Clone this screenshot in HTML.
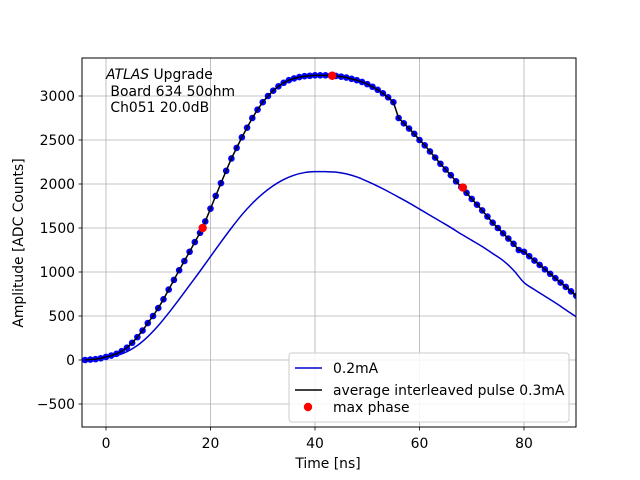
<!DOCTYPE html>
<html><head><meta charset="utf-8"><style>
body{margin:0;background:#fff}
svg{font-family:"DejaVu Sans","Liberation Sans",sans-serif}
</style></head><body>
<svg id="c" width="640" height="480" style="position:absolute;left:0;top:0"></svg>
<script>
const pulseT=[-4,-3,-2,-1,0,1,2,3,4,5,6,7,8,9,10,11,12,13,14,15,16,17,18,19,20,21,22,23,24,25,26,27,28,29,30,31,32,33,34,35,36,37,38,39,40,41,42,43,44,45,46,47,48,49,50,51,52,53,54,55,56,57,58,59,60,61,62,63,64,65,66,67,68,69,70,71,72,73,74,75,76,77,78,79,80,81,82,83,84,85,86,87,88,89,90];
const pulseV=[0,5,10,20,35,50,70,100,140,195,260,335,420,500,590,690,800,910,1020,1125,1230,1340,1445,1575,1720,1865,2010,2150,2290,2410,2530,2640,2750,2845,2930,3000,3060,3110,3150,3180,3200,3215,3225,3230,3235,3235,3235,3232,3228,3220,3210,3195,3180,3160,3135,3105,3070,3030,2985,2930,2750,2690,2630,2570,2500,2440,2370,2300,2230,2165,2100,2030,1965,1900,1830,1765,1700,1630,1560,1500,1440,1380,1320,1250,1230,1180,1130,1080,1030,980,930,880,830,780,730];
const blueT=[-4,-2,0,2,4,6,8,10,12,14,16,18,20,22,24,26,28,30,32,34,36,38,40,42,44,46,48,50,52,54,56,58,60,62,64,66,68,70,72,74,76,78,80,82,84,86,88,90];
const blueV=[0,8,25,50,95,165,265,390,535,690,850,1010,1175,1340,1500,1650,1780,1890,1980,2050,2100,2130,2140,2140,2135,2115,2080,2030,1975,1915,1850,1785,1715,1645,1575,1505,1430,1360,1290,1210,1130,1020,880,800,725,650,570,490];
const maxT=[18.5,43.3,68.3];
const maxV=[1500,3230,1960];
const xTicks=[0,20,40,60,80];
const yTicks=[-500,0,500,1000,1500,2000,2500,3000];
const L=82,R=576,T=58,B=427;
const xs=v=>106+(v)*5.225;
const ys=v=>360-v*0.088;
const svg=document.getElementById('c');
const NS='http://www.w3.org/2000/svg';
function mk(tag,at,parent){const e=document.createElementNS(NS,tag);for(const k in at)e.setAttribute(k,at[k]);(parent||svg).appendChild(e);return e;}
function smoothPath(px,py){let d='M'+px[0]+','+py[0];for(let i=0;i<px.length-1;i++){const x0=px[Math.max(i-1,0)],y0=py[Math.max(i-1,0)],x1=px[i],y1=py[i],x2=px[i+1],y2=py[i+1],x3=px[Math.min(i+2,px.length-1)],y3=py[Math.min(i+2,px.length-1)];
d+=' C'+(x1+(x2-x0)/6)+','+(y1+(y2-y0)/6)+' '+(x2-(x3-x1)/6)+','+(y2-(y3-y1)/6)+' '+x2+','+y2;}return d;}
const defs=mk('clipPath',{id:'clip'});mk('rect',{x:L,y:T,width:R-L,height:B-T},defs);
xTicks.forEach(t=>{const g=mk('line',{x1:xs(t),x2:xs(t),y1:T,y2:B,stroke:'#b0b0b0','stroke-width':0.8});

mk('line',{x1:xs(t),x2:xs(t),y1:B,y2:B+3.5,stroke:'#000','stroke-width':0.8});
const tx=mk('text',{x:xs(t),y:448,'text-anchor':'middle','font-size':13.9});tx.textContent=t;
});
yTicks.forEach(t=>{const g=mk('line',{x1:L,x2:R,y1:ys(t),y2:ys(t),stroke:'#b0b0b0','stroke-width':0.8});

mk('line',{x1:L-3.5,x2:L,y1:ys(t),y2:ys(t),stroke:'#000','stroke-width':0.8});
const tx=mk('text',{x:L-7,y:ys(t)+5,'text-anchor':'end','font-size':13.9});tx.textContent=t<0?'\u2212'+(-t):t;
});
const gp=mk('g',{'clip-path':'url(#clip)'});
const bl=mk('path',{d:smoothPath(blueT.map(xs),blueV.map(ys)),fill:'none',stroke:'#0000cc','stroke-width':1.5},gp);

pulseT.forEach((t,i)=>{const c=mk('circle',{cx:xs(t),cy:ys(pulseV[i]),r:3.3,fill:'#0000ff'},gp);
});
const pl=mk('polyline',{points:pulseT.map((t,i)=>xs(t)+','+ys(pulseV[i])).join(' '),fill:'none',stroke:'#000','stroke-width':1.5},gp);

maxT.forEach((t,i)=>{const c=mk('circle',{cx:xs(t),cy:ys(maxV[i]),r:4.2,fill:'#ff0000'},gp);
});
const fr=mk('rect',{x:L,y:T,width:R-L,height:B-T,fill:'none',stroke:'#000','stroke-width':1});

</script>
<svg style="position:absolute;left:0;top:0" width="640" height="480">
<g font-family="DejaVu Sans, Liberation Sans, sans-serif" font-size="13.9">
<text x="106" y="79"><tspan font-style="italic">ATLAS</tspan> Upgrade</text>
<text x="106" y="96">&#160;Board 634 50ohm</text>
<text x="106" y="112">&#160;Ch051 20.0dB</text>
<text x="328" y="468" text-anchor="middle">Time [ns]</text>
<text transform="translate(23,243) rotate(-90)" text-anchor="middle">Amplitude [ADC Counts]</text>
</g>
<g font-family="DejaVu Sans, Liberation Sans, sans-serif" font-size="13.9">
<rect x="289" y="353" width="280" height="69" rx="3" fill="#fff" fill-opacity="0.85" stroke="#ccc"/>
<line x1="295" x2="322" y1="368" y2="368" stroke="#0000cc" stroke-width="1.5"/>
<text x="333" y="373">0.2mA</text>
<line x1="295" x2="322" y1="390" y2="390" stroke="#000" stroke-width="1.5"/>
<text x="333" y="395">average interleaved pulse 0.3mA</text>
<circle cx="308" cy="407" r="4.2" fill="#ff0000"/>
<text x="333" y="412">max phase</text>
</g>
</svg>
</body></html>
